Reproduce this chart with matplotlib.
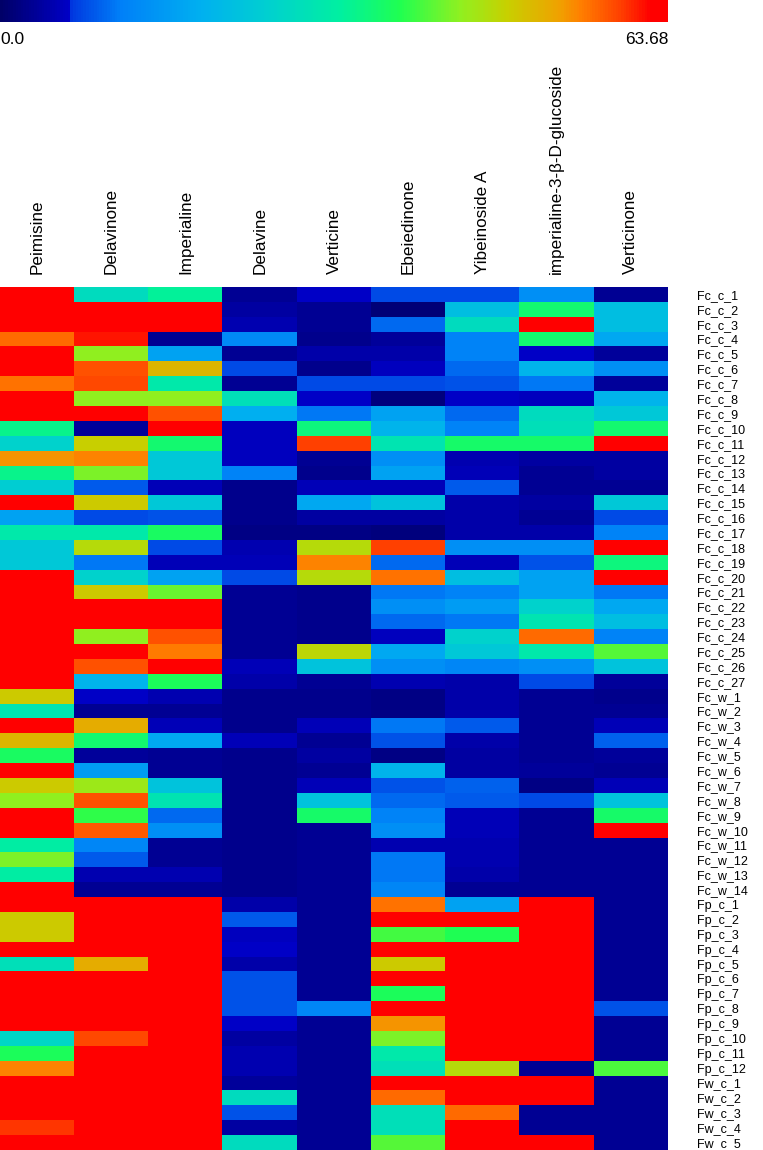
import numpy as np
import matplotlib
matplotlib.use("Agg")
import matplotlib.pyplot as plt
from matplotlib.colors import LinearSegmentedColormap

# compounds (columns) and samples (rows)
compounds = ["Peimisine", "Delavinone", "Imperialine", "Delavine", "Verticine",
             "Ebeiedinone", "Yibeinoside A", "imperialine-3-\u03b2-D-glucoside", "Verticinone"]
samples = (["Fc_c_%d" % i for i in range(1, 28)] + ["Fc_w_%d" % i for i in range(1, 15)]
           + ["Fp_c_%d" % i for i in range(1, 13)] + ["Fw_c_%d" % i for i in range(1, 6)])

vmin, vmax = 0.0, 63.68

# content per compound (values above vmax show as red)
peimisine = [64, 64, 64, 56.5, 64, 64, 56, 64, 64, 34, 26, 54, 34, 25, 64, 17, 31, 24, 24, 64,
             64, 64, 64, 64, 64, 64, 64, 49, 30, 64, 51, 37, 64, 49, 44, 64, 64, 32, 43, 32,
             64, 64, 49, 49, 64, 29, 64, 64, 64, 64, 27, 37.5, 55, 64, 64, 64, 59.5, 64]
delavinone = [28, 64, 64, 61, 44, 58, 58.5, 44, 62, 3.5, 48.5, 55, 43, 9, 49, 8, 31, 47, 11, 26,
              49, 64, 64, 44, 64, 58, 20, 6.5, 3, 52, 36, 3.5, 16, 45, 58, 39, 57.5, 12.5, 9, 5,
              3, 64, 64, 64, 64, 52, 64, 64, 64, 64, 58.5, 64, 64, 64, 64, 64, 64, 64]
imperialine = [33, 64, 64, 3, 17, 51, 31, 44, 58, 64, 36, 24, 24, 5.5, 24, 8.5, 37, 8, 5.5, 17,
               42, 64, 64, 58, 55.5, 64, 37.5, 5, 3, 5.5, 18, 3, 3, 23, 30, 10, 14, 3, 3, 5,
               3, 64, 64, 64, 64, 64, 64, 64, 64, 64, 64, 64, 64, 64, 64, 64, 64, 64]
delavine = [3, 4, 5, 13, 3, 8, 3, 29, 19, 6, 6, 6, 12, 2.5, 2.5, 2.5, 2, 5, 5.5, 8,
            3, 3, 3, 3, 3, 5.5, 4.5, 2.5, 2.5, 2.5, 5.5, 2.5, 2.5, 2.5, 2.5, 2.5, 2.5, 2.5, 2.5, 2.5,
            2.5, 4.5, 9, 6, 6.5, 4.5, 8.5, 8.5, 8.5, 6.5, 4, 5, 5, 3.5, 28, 8.5, 4, 28]
verticine = [6.5, 3, 3, 2.5, 4.5, 2.5, 8, 6.5, 11, 35, 59, 3, 2.5, 5.5, 18, 4, 2, 47, 55, 47,
             2.5, 2.5, 2.5, 2.5, 47.5, 23, 3, 2.5, 2.5, 5.5, 3, 4, 3, 5.5, 23, 36.5, 3, 3, 3, 3,
             3, 3, 3, 3, 3, 3, 3, 3, 12.5, 3, 3, 3, 3, 3, 3, 3, 3, 3]
ebeiedinone = [8, 1, 10, 3.5, 4.5, 6, 8, 1.5, 17, 20, 30, 14, 17, 5.5, 23, 4, 1.5, 59, 10, 56,
               11, 14, 10, 6, 18, 14, 5, 2, 2, 11, 8.5, 2, 20, 8.5, 10, 12, 14, 5, 11, 11,
               12.5, 56, 64, 40, 64, 49, 64, 37.5, 64, 54, 43, 31, 29, 64, 56.5, 29, 29, 41]
yibeinoside_a = [8, 22, 28, 12, 12, 10, 8.5, 6.5, 10, 12, 36.5, 5, 5.5, 9, 4.5, 4.5, 4.5, 14, 5.5, 22,
                 12, 16, 11, 26, 24, 12.5, 4.5, 4.5, 4.5, 9, 4.5, 4, 4, 9.5, 9, 5.5, 5.5, 5, 5, 4.5,
                 3, 17, 64, 38, 64, 64, 64, 64, 64, 64, 64, 64, 47, 64, 64, 56.5, 64, 64]
glucoside = [14, 36, 64, 36, 6.5, 20, 11, 6, 28, 29, 36.5, 4, 3, 3, 4, 3, 4.5, 14, 8.5, 17,
             17, 26, 30, 56.5, 31, 14, 8, 3, 3, 3, 3, 3, 3.5, 2, 8, 3, 3, 3, 3, 3,
             3, 64, 64, 64, 64, 64, 64, 64, 64, 64, 64, 64, 3, 64, 62, 3, 3, 64]
verticinone = [3, 22, 22, 18, 3.5, 14, 3.5, 20, 24, 36, 64, 4, 4, 3, 24, 8, 12, 64, 35, 64,
               11, 18, 22, 12, 41, 23, 3.5, 2.5, 3, 5.5, 9.5, 3.5, 3, 5.5, 23, 36.5, 64, 3, 3, 3,
               3, 3, 3, 3, 3, 3, 3, 3, 8.5, 3, 3, 3, 40.5, 3, 3, 3, 3, 3]

data = np.column_stack([peimisine, delavinone, imperialine, delavine, verticine,
                        ebeiedinone, yibeinoside_a, glucoside, verticinone])

# jet-like palette as in the original colour bar
stops = [(0.0, "#000068"), (0.104, "#0000c8"), (0.106, "#0038e0"), (0.18, "#0080f8"),
         (0.30, "#00b0f0"), (0.40, "#00d0d0"), (0.51, "#00f0a0"), (0.60, "#20ff50"),
         (0.69, "#90f020"), (0.76, "#c8d000"), (0.84, "#f0a000"), (0.87, "#ff8000"),
         (0.93, "#ff4000"), (0.975, "#ff0000"), (1.0, "#ff0000")]
cmap = LinearSegmentedColormap.from_list("heat", stops)

fam = ["Liberation Sans", "DejaVu Sans"]

fig = plt.figure(figsize=(7.63, 11.5), dpi=100)

W, H = 763.0, 1150.0
ax = fig.add_axes([0, 0, 668 / W, (H - 287) / H])
im = ax.imshow(data, cmap=cmap, vmin=vmin, vmax=vmax, aspect="auto", interpolation="nearest")

ax.xaxis.tick_top()
ax.set_xticks(range(len(compounds)))
ax.set_xticklabels(compounds, rotation=90, fontsize=12.3, family=fam)
ax.yaxis.tick_right()
ax.set_yticks(range(len(samples)))
ax.set_yticklabels(samples, fontsize=9, family=fam)
ax.tick_params(length=0)
ax.tick_params(axis="x", pad=9)
ax.tick_params(axis="y", pad=21)
for s in ax.spines.values():
    s.set_visible(False)

# colour bar across the top
cax = fig.add_axes([0, 1 - 22 / H, 668 / W, 22 / H])
cb = fig.colorbar(im, cax=cax, orientation="horizontal")
cb.set_ticks([])
cb.outline.set_visible(False)
fig.text(0, 1 - 40 / H, "0.0", ha="left", va="center", fontsize=12.5, family=fam)
fig.text(668 / W, 1 - 40 / H, "63.68", ha="right", va="center", fontsize=12.5, family=fam)

fig.savefig("out.png", dpi=100)
